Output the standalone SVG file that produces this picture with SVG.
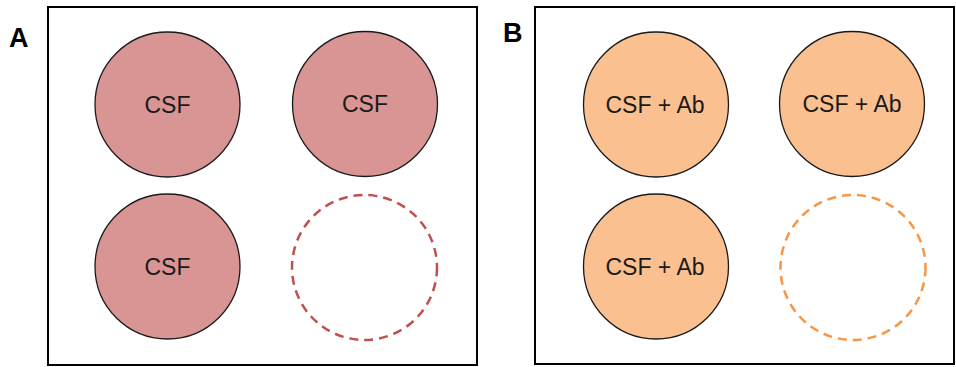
<svg xmlns="http://www.w3.org/2000/svg" width="956" height="367" viewBox="0 0 956 367">
<style>
.frame{fill:#fff;stroke:#000;stroke-width:2}
.csf{fill:#D99594;stroke:#1a1a1a;stroke-width:1.3}
.ab{fill:#FAC090;stroke:#1a1a1a;stroke-width:1.3}
.dashA{fill:none;stroke:#C0504D;stroke-width:2.5;stroke-dasharray:9 6}
.dashB{fill:none;stroke:#F79646;stroke-width:2.5;stroke-dasharray:9 6}
.lbl{font-family:"Liberation Sans",Arial,sans-serif;font-size:23px;fill:#1a1a1a;text-anchor:middle}
.panel{font-family:"Liberation Sans",Arial,sans-serif;font-size:27px;font-weight:bold;fill:#000}
</style>
<rect width="956" height="367" fill="#fff"/>
<g id="panelA">
<rect class="frame" x="48" y="7" width="429" height="358"/>
<text class="panel" x="9" y="47">A</text>
</g>
<g id="panelB">
<rect class="frame" x="535" y="7" width="419" height="357"/>
<text class="panel" x="503" y="42">B</text>
</g>
<g id="a1"><circle class="csf" cx="167.5" cy="104.5" r="72.5"/><text class="lbl" x="167.5" y="113">CSF</text></g>
<g id="a2"><circle class="csf" cx="365" cy="104" r="72.5"/><text class="lbl" x="365" y="112">CSF</text></g>
<g id="a3"><circle class="csf" cx="167.5" cy="266.5" r="72.5"/><text class="lbl" x="167.5" y="275">CSF</text></g>
<g id="a4"><circle class="dashA" cx="364.5" cy="267.5" r="72.5"/></g>
<g id="b1"><circle class="ab" cx="656" cy="104.5" r="72.5"/><text class="lbl" x="655" y="113">CSF + Ab</text></g>
<g id="b2"><circle class="ab" cx="852" cy="104" r="72.5"/><text class="lbl" x="852" y="112">CSF + Ab</text></g>
<g id="b3"><circle class="ab" cx="656" cy="266.5" r="72.5"/><text class="lbl" x="655" y="275">CSF + Ab</text></g>
<g id="b4"><circle class="dashB" cx="853" cy="267.5" r="72.5"/></g>
<g id="connectors"/>
</svg>
